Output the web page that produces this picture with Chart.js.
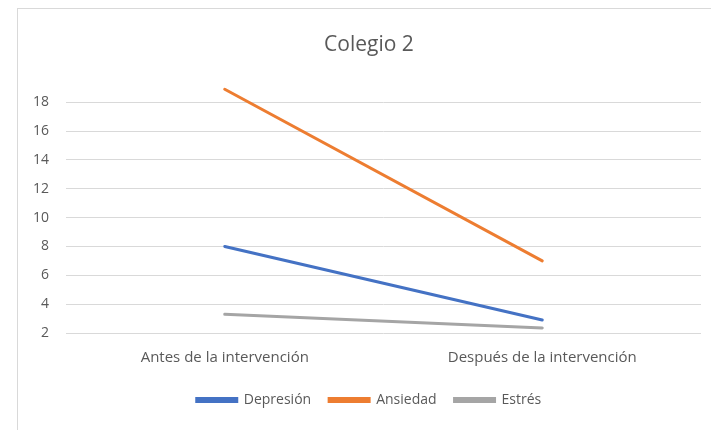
<!DOCTYPE html>
<html>
<head>
<meta charset="utf-8">
<script src="https://cdn.jsdelivr.net/npm/chart.js@4.4.1/dist/chart.umd.min.js"></script>
<style>
  html, body { margin: 0; padding: 0; background: #fff; overflow: hidden; }
  #frame { position: absolute; left: 17px; top: 8px; width: 720px; height: 440px;
           border-left: 1px solid #d9d9d9; border-top: 1px solid #d9d9d9; }
  #wrap { position: absolute; left: 0; top: 0; width: 738px; height: 430px; }
</style>
</head>
<body>
<div id="frame"></div>
<div id="wrap"><canvas id="chart" width="738" height="430"></canvas></div>
<script>
// datos
const categorias = ["Antes de la intervención", "Después de la intervención"];
const depresion = [8, 2.9];
const ansiedad = [18.9, 7];
const estres = [3.3, 2.35];

const gris = "#595959";
const fuente = "'Open Sans', 'Noto Sans', sans-serif";

var ctx = document.getElementById("chart").getContext("2d");
var myChart = new Chart(ctx, {
  type: "line",
  data: {
    labels: categorias,
    datasets: [
      { label: "Depresión", data: depresion, borderColor: "#4472C4", backgroundColor: "#4472C4" },
      { label: "Ansiedad", data: ansiedad, borderColor: "#ED7D31", backgroundColor: "#ED7D31" },
      { label: "Estrés", data: estres, borderColor: "#A5A5A5", backgroundColor: "#A5A5A5" },
    ],
  },
  options: {
    responsive: false,
    animation: false,
    layout: { padding: { left: 0, right: 0, top: 0, bottom: 13 } },
    elements: {
      line: { borderWidth: 3, tension: 0, borderCapStyle: "round" },
      point: { radius: 0, hoverRadius: 0 },
    },
    datasets: { line: { clip: false } },
    plugins: {
      title: {
        display: true,
        text: "Colegio 2",
        color: gris,
        font: { family: fuente, size: 21, weight: "normal" },
        padding: { top: 32, bottom: 45 },
      },
      legend: {
        position: "bottom",
        labels: {
          color: gris,
          font: { family: fuente, size: 14 },
          boxWidth: 40,
          boxHeight: 3,
          padding: 18,
        },
      },
      tooltip: { enabled: false },
    },
    scales: {
      x: {
        offset: true,
        grid: { display: false, drawTicks: false },
        border: { display: false },
        ticks: { color: gris, font: { family: fuente, size: 15 }, padding: 16, maxRotation: 0 },
        afterFit: function (scale) { scale.height = 42; },
      },
      y: {
        min: 2,
        max: 18,
        grid: { color: "#d9d9d9", drawTicks: false, lineWidth: 1 },
        border: { display: false },
        ticks: { stepSize: 2, color: gris, font: { family: fuente, size: 14 }, padding: 17 },
        afterFit: function (scale) { scale.width = 66; },
      },
      // espacio vacío a la derecha (el gráfico original sigue fuera de la imagen)
      derecha: {
        position: "right",
        min: 0,
        max: 1,
        grid: { display: false, drawTicks: false },
        border: { display: false },
        ticks: { display: false },
        afterFit: function (scale) { scale.width = 37; },
      },
    },
  },
});
</script>
</body>
</html>
